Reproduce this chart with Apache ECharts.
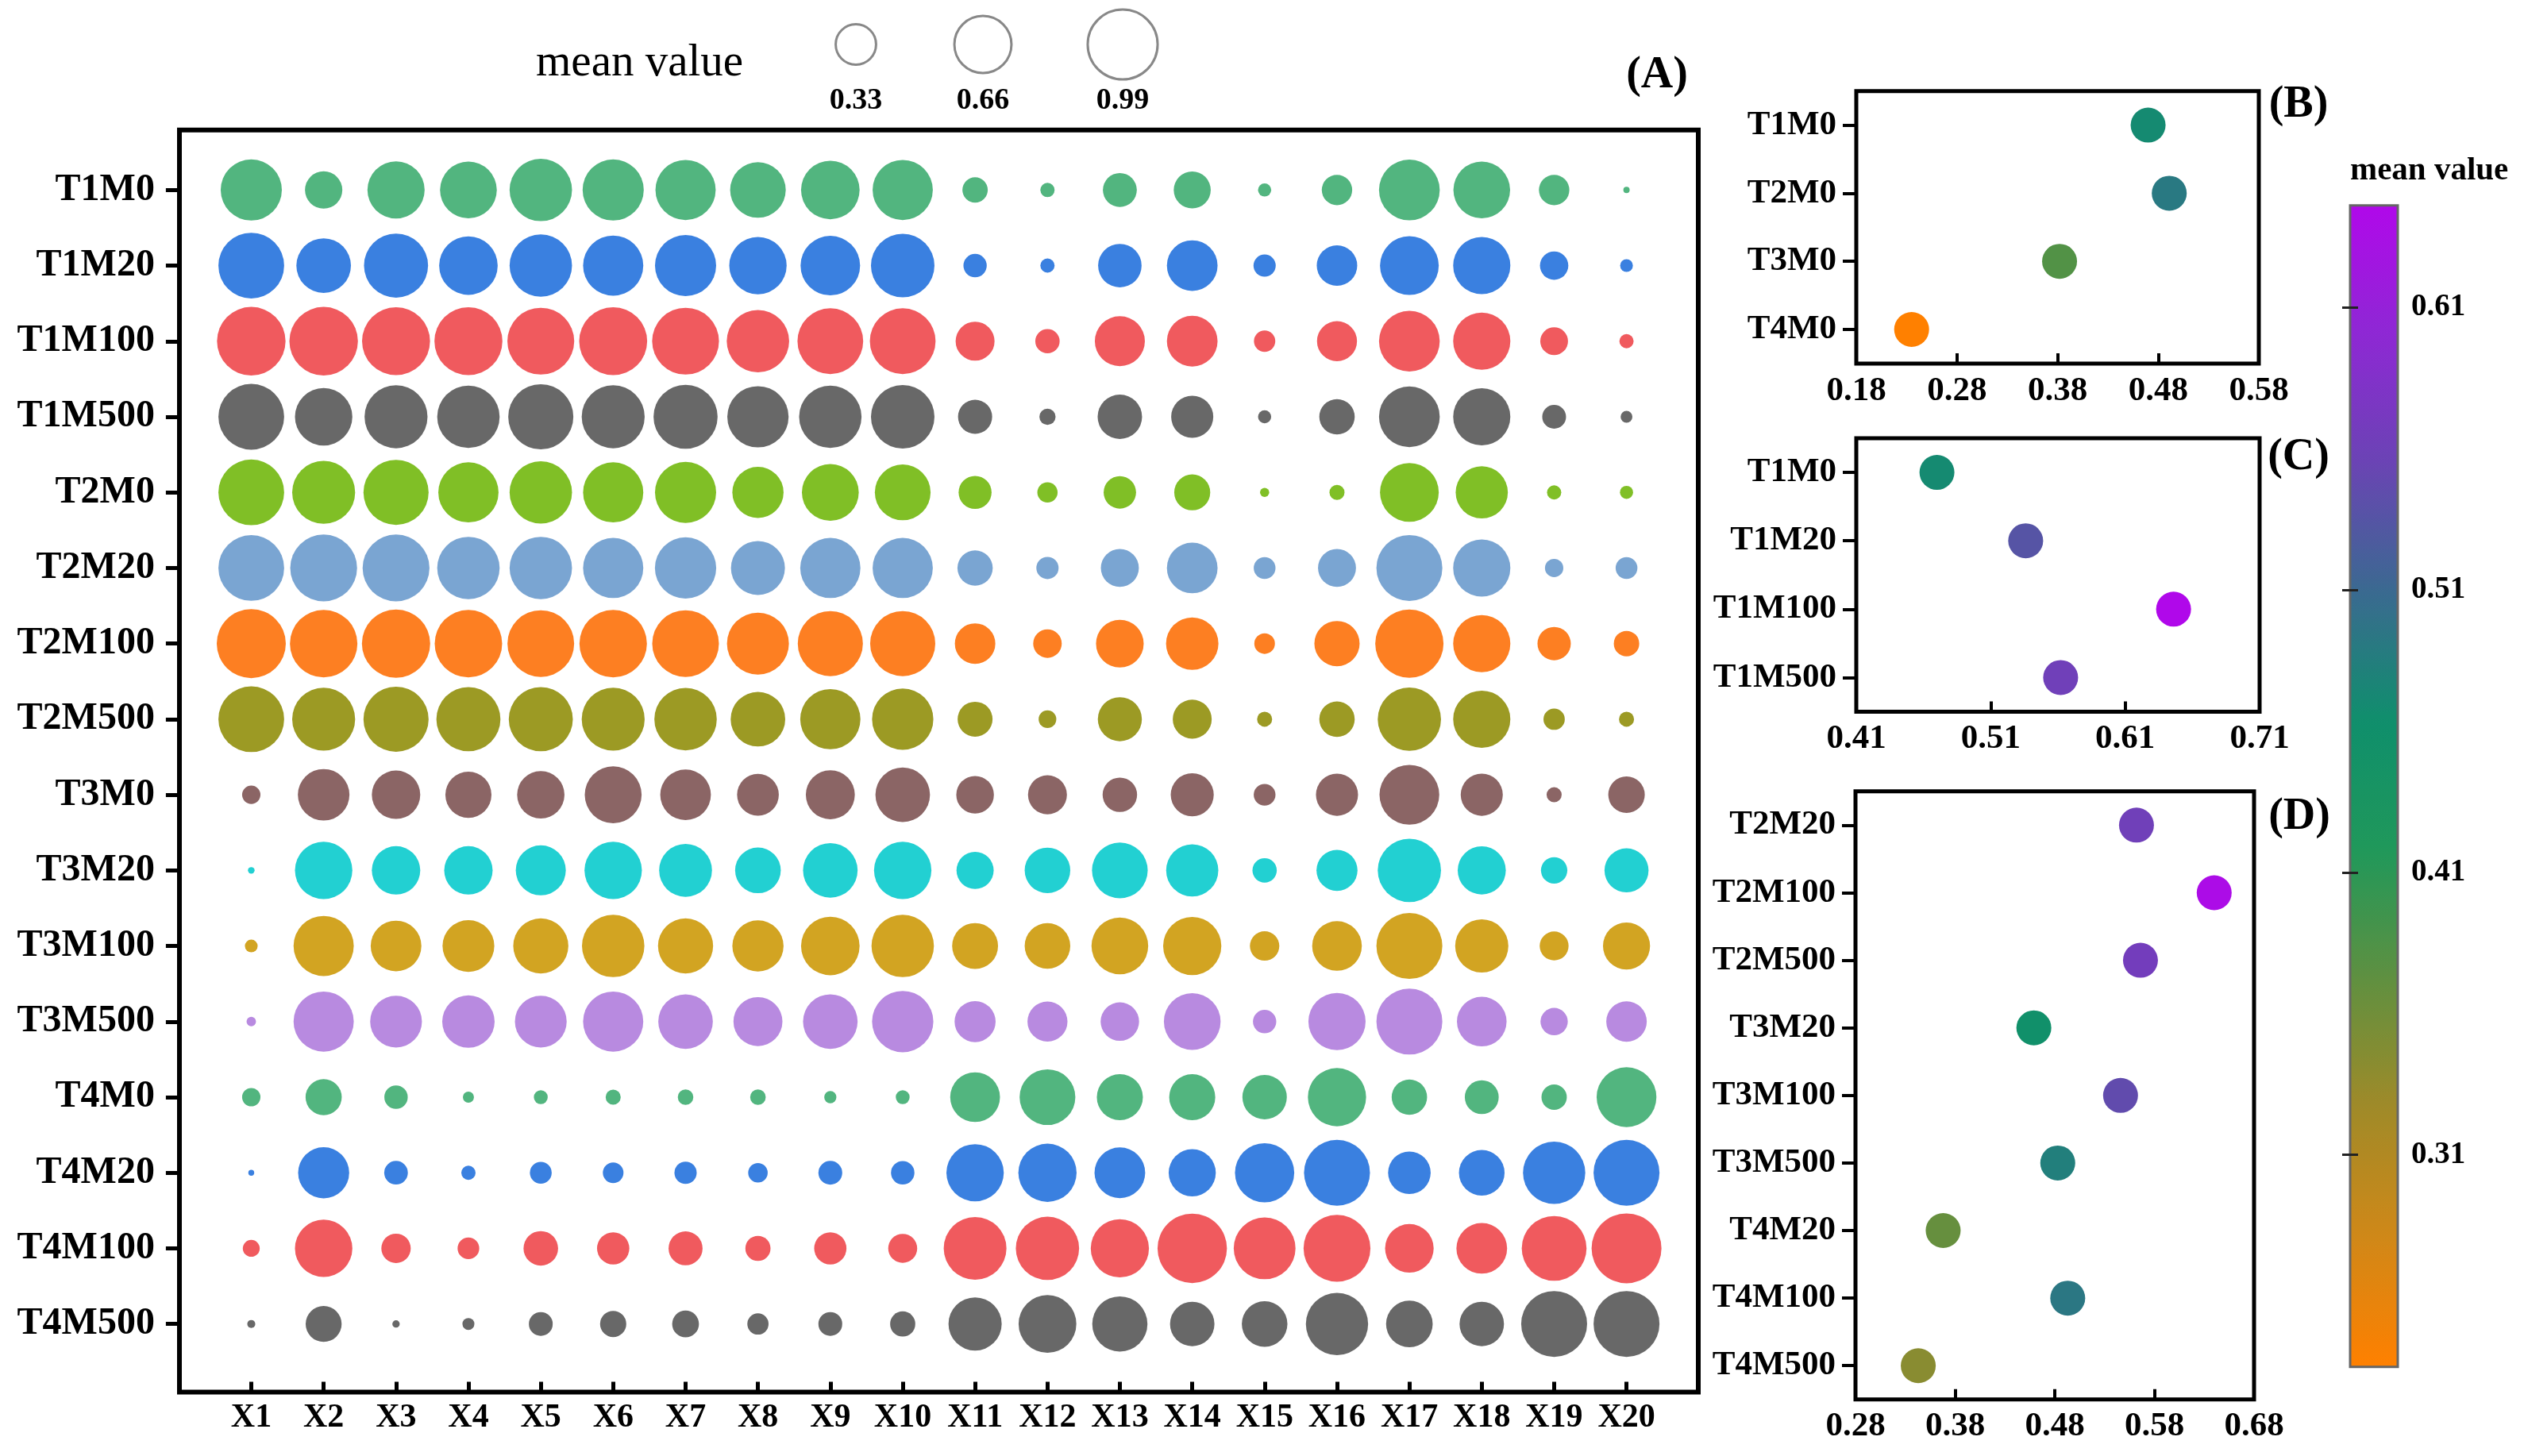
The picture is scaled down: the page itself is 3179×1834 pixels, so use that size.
<!DOCTYPE html>
<html><head><meta charset="utf-8">
<script src="https://cdn.jsdelivr.net/npm/echarts@6/dist/echarts.min.js"></script>
<style>html,body{margin:0;padding:0;background:#fff}#c{width:3179px;height:1834px}</style>
</head><body><div id="c"></div>
<script>
// ---------- data ----------
const xCats = ['X1','X2','X3','X4','X5','X6','X7','X8','X9','X10','X11','X12','X13','X14','X15','X16','X17','X18','X19','X20'];
const rowCats = ['T1M0','T1M20','T1M100','T1M500','T2M0','T2M20','T2M100','T2M500','T3M0','T3M20','T3M100','T3M500','T4M0','T4M20','T4M100','T4M500'];
const rowColors = ['#52b57f','#3a80e0','#f05a5e','#686868','#80bf26','#7aa5d2','#fd7f22','#9c9a24','#8b6565','#22d0d2','#d2a422','#b88ae0','#52b57f','#3a80e0','#f05a5e','#686868'];

const T1M0   = [0.757,0.282,0.662,0.653,0.789,0.757,0.734,0.626,0.694,0.734,0.130,0.041,0.233,0.277,0.035,0.187,0.747,0.651,0.187,0.008];
const T1M20  = [0.875,0.603,0.831,0.694,0.789,0.734,0.757,0.667,0.718,0.817,0.110,0.041,0.383,0.520,0.100,0.332,0.699,0.662,0.163,0.033];
const T1M100 = [0.951,0.951,0.936,0.936,0.905,0.936,0.905,0.789,0.875,0.875,0.307,0.120,0.507,0.520,0.092,0.324,0.747,0.662,0.156,0.041];
const T1M500 = [0.875,0.667,0.803,0.789,0.859,0.803,0.831,0.761,0.789,0.817,0.236,0.053,0.400,0.359,0.035,0.254,0.747,0.662,0.115,0.028];
const T2M0   = [0.875,0.803,0.859,0.734,0.789,0.734,0.757,0.531,0.655,0.629,0.220,0.083,0.213,0.262,0.017,0.046,0.699,0.551,0.041,0.035];
const T2M20  = [0.875,0.905,0.905,0.789,0.789,0.734,0.761,0.590,0.734,0.734,0.252,0.100,0.292,0.520,0.096,0.292,0.880,0.662,0.068,0.096];
const T2M100 = [0.966,0.922,0.944,0.922,0.901,0.922,0.901,0.777,0.859,0.859,0.332,0.165,0.460,0.556,0.086,0.415,0.944,0.662,0.225,0.131];
const T2M500 = [0.875,0.803,0.859,0.831,0.831,0.803,0.789,0.603,0.734,0.761,0.247,0.063,0.393,0.307,0.046,0.254,0.811,0.662,0.092,0.046];
const T3M0   = [0.068,0.539,0.475,0.430,0.454,0.655,0.520,0.353,0.486,0.603,0.287,0.307,0.241,0.375,0.096,0.359,0.724,0.359,0.046,0.270];
const T3M20  = [0.009,0.667,0.475,0.475,0.507,0.667,0.566,0.422,0.603,0.667,0.280,0.421,0.629,0.551,0.120,0.341,0.811,0.469,0.141,0.393];
const T3M100 = [0.033,0.734,0.520,0.543,0.615,0.789,0.615,0.531,0.694,0.789,0.427,0.421,0.651,0.686,0.175,0.499,0.880,0.573,0.169,0.449];
const T3M500 = [0.018,0.734,0.543,0.556,0.543,0.734,0.603,0.486,0.603,0.761,0.341,0.324,0.300,0.651,0.110,0.662,0.880,0.499,0.151,0.332];
const T4M0   = [0.068,0.265,0.111,0.025,0.039,0.046,0.049,0.049,0.030,0.039,0.502,0.629,0.430,0.430,0.400,0.686,0.254,0.233,0.130,0.724];
const T4M20  = [0.007,0.528,0.113,0.041,0.096,0.086,0.100,0.077,0.115,0.111,0.666,0.686,0.520,0.449,0.711,0.880,0.367,0.421,0.785,0.880];
const T4M100 = [0.058,0.667,0.175,0.095,0.242,0.211,0.234,0.128,0.211,0.170,0.797,0.811,0.686,0.975,0.773,0.905,0.478,0.520,0.850,0.989];
const T4M500 = [0.013,0.262,0.011,0.029,0.115,0.139,0.145,0.091,0.115,0.128,0.573,0.675,0.617,0.400,0.421,0.785,0.440,0.400,0.880,0.880];

const sizeLegend = [0.33, 0.66, 0.99];

const catsB = ['T1M0','T2M0','T3M0','T4M0'];
const valsB = [0.470, 0.491, 0.382, 0.235];
const catsC = ['T1M0','T1M20','T1M100','T1M500'];
const valsC = [0.470, 0.536, 0.646, 0.562];
const catsD = ['T2M20','T2M100','T2M500','T3M20','T3M100','T3M500','T4M20','T4M100','T4M500'];
const valsD = [0.562, 0.640, 0.566, 0.459, 0.546, 0.483, 0.368, 0.493, 0.343];

const cbTicks = [0.31, 0.41, 0.51, 0.61];
const cbMin = 0.235, cbMax = 0.646;
const cbColors = ['#ff8000','#d08818','#a08a28','#609040','#20985a','#0f8f6c','#3a6a90','#6a44b4','#8e28d4','#b008ea'];

// ---------- build ----------
const bubbleRows = [T1M0,T1M20,T1M100,T1M500,T2M0,T2M20,T2M100,T2M500,T3M0,T3M20,T3M100,T3M500,T4M0,T4M20,T4M100,T4M500];
const FONT = "'Liberation Serif','Times New Roman',serif";
const K = 88.5;
const sizeOf = v => K * Math.sqrt(v);

const chart = echarts.init(document.getElementById('c'), null, {renderer: 'canvas'});

const lblBold = (size, margin) => ({fontFamily: FONT, fontWeight: 'bold', fontSize: size, color: '#000', margin: margin});

const series = [];
bubbleRows.forEach((row, r) => {
  series.push({
    type: 'scatter', xAxisIndex: 0, yAxisIndex: 0, name: rowCats[r],
    data: row.map((v, i) => [i, r, v]),
    symbolSize: d => sizeOf(d[2]),
    itemStyle: {color: rowColors[r], opacity: 1},
    emphasis: {disabled: true}, z: 3
  });
});
const subSeries = (xi, vals) => ({
  type: 'scatter', xAxisIndex: xi, yAxisIndex: xi,
  data: vals.map((v, i) => [v, i]), symbolSize: 44,
  itemStyle: {opacity: 1}, emphasis: {disabled: true}
});
series.push(subSeries(2, valsB));
series.push(subSeries(3, valsC));
series.push(subSeries(4, valsD));

const subX = (gi, min, max) => ({
  type: 'value', gridIndex: gi, min: min, max: max, interval: 0.1,
  axisLine: {show: false}, splitLine: {show: false},
  axisTick: {show: true, inside: true, length: 13, lineStyle: {color: '#000', width: 4}},
  axisLabel: Object.assign(lblBold(43, 13), {formatter: v => v.toFixed(2)})
});
const subY = (gi, cats) => ({
  type: 'category', gridIndex: gi, data: cats, inverse: true,
  axisLine: {show: false},
  axisTick: {show: true, alignWithLabel: true, length: 17, lineStyle: {color: '#000', width: 4}},
  axisLabel: lblBold(43, 25)
});

const graphics = [];
// size legend
graphics.push({type: 'text', left: 675, top: 52, style: {text: 'mean value', font: "57px " + FONT, fill: '#000'}});
const legX = [1078, 1238, 1414];
sizeLegend.forEach((v, i) => {
  graphics.push({type: 'circle', shape: {cx: legX[i], cy: 56, r: sizeOf(v) / 2}, style: {fill: 'none', stroke: '#888', lineWidth: 3}});
  graphics.push({type: 'text', x: legX[i], y: 127, style: {text: v.toFixed(2), font: "bold 38px " + FONT, fill: '#000', align: 'center', verticalAlign: 'middle'}});
});
// panel labels
[['(A)', 2087, 96], ['(B)', 2895, 133], ['(C)', 2895, 577], ['(D)', 2896, 1030]].forEach(p => {
  graphics.push({type: 'text', x: p[1], y: p[2], style: {text: p[0], font: "bold 56px " + FONT, fill: '#000', align: 'center', verticalAlign: 'middle'}});
});
graphics.push({type: 'text', x: 2960, y: 215, style: {text: 'mean value', font: "bold 41px " + FONT, fill: '#000', align: 'left', verticalAlign: 'middle'}});

const option = {
  backgroundColor: '#fff',
  animation: false,
  grid: [
    {left: 270.9, top: 191.7, width: 1823.3, height: 1523.6, outerBoundsMode: 'none'},
    {left: 226, top: 163.7, width: 1913, height: 1589.8, show: true, borderColor: '#000', borderWidth: 6, backgroundColor: 'transparent', outerBoundsMode: 'none'},
    {left: 2338, top: 114.7, width: 507, height: 343.2, show: true, borderColor: '#000', borderWidth: 5, backgroundColor: 'transparent', outerBoundsMode: 'none'},
    {left: 2338, top: 552, width: 508, height: 344.5, show: true, borderColor: '#000', borderWidth: 5, backgroundColor: 'transparent', outerBoundsMode: 'none'},
    {left: 2337, top: 996.8, width: 502, height: 766, show: true, borderColor: '#000', borderWidth: 5, backgroundColor: 'transparent', outerBoundsMode: 'none'},
    {left: 2960, top: 258.7, width: 60, height: 1463, show: true, borderColor: '#666', borderWidth: 3, backgroundColor: 'transparent', outerBoundsMode: 'none', z: 5}
  ],
  xAxis: [
    {type: 'category', gridIndex: 0, data: xCats, position: 'bottom', offset: 38.2,
     axisLine: {show: false},
     axisTick: {show: true, inside: true, alignWithLabel: true, length: 13, lineStyle: {color: '#000', width: 5}},
     axisLabel: Object.assign(lblBold(42, 12), {interval: 0})},
    {type: 'value', gridIndex: 1, show: false},
    subX(2, 0.18, 0.58),
    subX(3, 0.41, 0.71),
    subX(4, 0.28, 0.68),
    {type: 'value', gridIndex: 5, show: false}
  ],
  yAxis: [
    {type: 'category', gridIndex: 0, data: rowCats, inverse: true, offset: 45,
     axisLine: {show: false},
     axisTick: {show: true, alignWithLabel: true, length: 17, lineStyle: {color: '#000', width: 5}},
     axisLabel: Object.assign(lblBold(48, 31), {interval: 0})},
    {type: 'value', gridIndex: 1, show: false},
    subY(2, catsB),
    subY(3, catsC),
    subY(4, catsD),
    {type: 'value', gridIndex: 5, position: 'right', min: cbMin, max: cbMax,
     axisLine: {show: false}, splitLine: {show: false},
     axisTick: {show: true, inside: true, length: 10, customValues: cbTicks, lineStyle: {color: '#222', width: 3}},
     axisLabel: Object.assign(lblBold(39, 17), {customValues: cbTicks, formatter: v => v.toFixed(2)}), z: 6},
    {type: 'value', gridIndex: 5, position: 'left', min: cbMin, max: cbMax,
     axisLine: {show: false}, splitLine: {show: false},
     axisTick: {show: true, inside: true, length: 10, customValues: cbTicks, lineStyle: {color: '#222', width: 3}},
     axisLabel: {show: false}, z: 6}
  ],
  visualMap: [{
    type: 'continuous', min: cbMin, max: cbMax, dimension: 0, seriesIndex: [16, 17, 18],
    left: 2960, top: 258.7, itemWidth: 60, itemHeight: 1463, padding: 0,
    calculable: false, show: true, text: null, showLabel: false,
    inRange: {color: cbColors}
  }],
  graphic: graphics,
  series: series
};
chart.setOption(option);
</script></body></html>
